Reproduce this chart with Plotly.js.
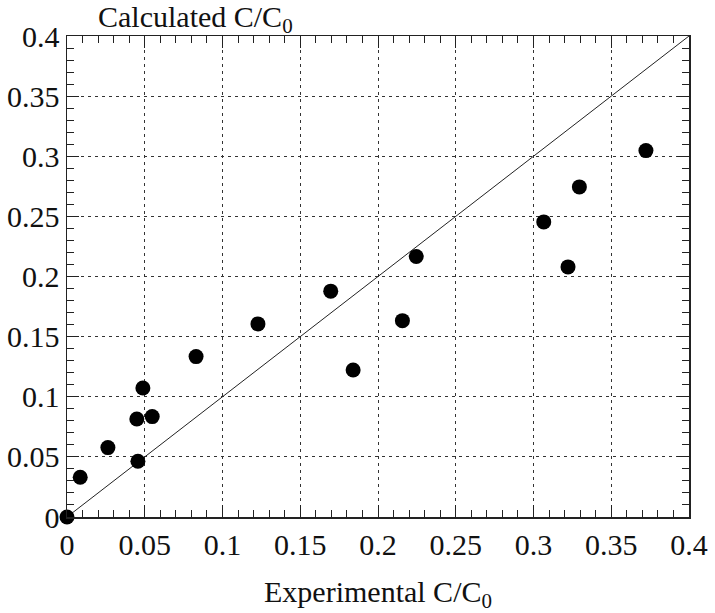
<!DOCTYPE html>
<html>
<head>
<meta charset="utf-8">
<script src="https://cdn.plot.ly/plotly-3.0.1.min.js"></script>
<style>html,body{margin:0;padding:0;background:#fff;font-family:'Liberation Serif',serif;} .c{width:715px;height:613px;}</style>
</head>
<body>
<div id="chart" class="c"></div>
<script>
const experimental = [0, 0.0085, 0.0263, 0.0456, 0.0449, 0.0548, 0.0488, 0.083, 0.1228, 0.184, 0.1696, 0.2157, 0.2246, 0.3066, 0.3222, 0.3295, 0.3723];
const calculated   = [0, 0.033, 0.0577, 0.0463, 0.0815, 0.0835, 0.1073, 0.1334, 0.1606, 0.1223, 0.1878, 0.1633, 0.2166, 0.2454, 0.208, 0.2745, 0.3047];
const diagX = [0, 0.4];
const diagY = [0, 0.4];
const tickVals = [0, 0.05, 0.1, 0.15, 0.2, 0.25, 0.3, 0.35, 0.4];
const tickText = ['0', '0.05', '0.1', '0.15', '0.2', '0.25', '0.3', '0.35', '0.4'];

const FAM = 'Liberation Serif, Times New Roman, serif';
function mkFont(size) { return {family: FAM, size: size, color: '#111'}; }

function axisCommon() {
  return {range: [0, 0.4], tickmode: 'array', tickvals: tickVals, ticktext: tickText,
    ticks: 'inside', ticklen: 12, tickwidth: 1, tickcolor: '#222',
    showline: true, linecolor: '#222', linewidth: 1.5, mirror: 'ticks',
    showgrid: true, gridcolor: '#333', gridwidth: 1, griddash: '3px,4px', zeroline: false,
    tickfont: mkFont(30),
    minor: {dtick: 0.01, ticks: 'inside', ticklen: 7, tickwidth: 1, tickcolor: '#222', showgrid: false}};
}

const data = [
  {x: diagX, y: diagY, type: 'scatter', mode: 'lines', line: {color: '#222', width: 1}, showlegend: false},
  {x: experimental, y: calculated, type: 'scatter', mode: 'markers', marker: {color: '#000', size: 15}, showlegend: false, cliponaxis: false}
];

const xa = axisCommon();
xa.title = {text: 'Experimental C/C<sub>0</sub>', font: mkFont(30), standoff: 24};
const ya = axisCommon();

const layout = {
  width: 715, height: 613,
  margin: {l: 67, r: 26, t: 36, b: 96},
  font: mkFont(30),
  xaxis: xa,
  yaxis: ya,
  annotations: [{
    text: 'Calculated C/C<sub>0</sub>', xref: 'paper', yref: 'paper', x: 0.046, y: 1, xanchor: 'left', yanchor: 'bottom',
    yshift: -4, showarrow: false, font: mkFont(30)
  }]
};

Plotly.newPlot('chart', data, layout, {staticPlot: true}).then(function (gd) {
  return Plotly.relayout(gd, {'xaxis.tickfont.family': 'Liberation Serif', 'yaxis.tickfont.family': 'Liberation Serif'});
});
</script>
</body>
</html>
